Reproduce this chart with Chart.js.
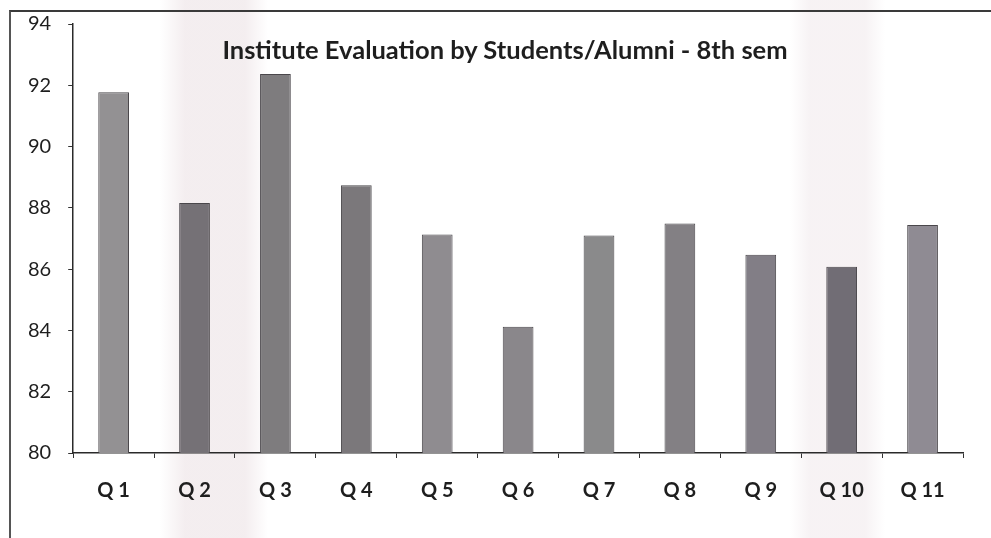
<!DOCTYPE html>
<html>
<head>
<meta charset="utf-8">
<script src="https://cdn.jsdelivr.net/npm/chart.js@4/dist/chart.umd.min.js"></script>
<style>
  html, body { margin: 0; padding: 0; background: #ffffff; }
  #wrap { position: relative; width: 991px; height: 538px; overflow: hidden;
          background:
            linear-gradient(90deg, rgba(255,255,255,0) 160px, rgba(236,226,229,0.6) 185px, rgba(236,226,229,0.6) 245px, rgba(255,255,255,0) 268px),
            linear-gradient(90deg, rgba(255,255,255,0) 790px, rgba(240,232,235,0.55) 810px, rgba(240,232,235,0.55) 865px, rgba(255,255,255,0) 885px),
            #ffffff; }
  #frame { position: absolute; left: 9px; top: 10px; right: -2px; bottom: -2px;
           border-top: 2px solid #3a3a3a; border-left: 2px solid #555; pointer-events: none; }
  #title { position: absolute; left: 0; width: 1010px; top: 37px; line-height: 1; text-align: center;
           font-family: Lato, "Open Sans", sans-serif; font-weight: bold; font-size: 25.5px; color: #1e1e1e; }
  canvas { position: absolute; left: 0; top: 0; }
</style>
</head>
<body>
<div id="wrap">
  <canvas id="c" width="991" height="538"></canvas>
  <div id="frame"></div>
  <div id="title">Institute Evaluation by Students/Alumni - 8th sem</div>
</div>
<script>
const categories = ["Q 1", "Q 2", "Q 3", "Q 4", "Q 5", "Q 6", "Q 7", "Q 8", "Q 9", "Q 10", "Q 11"];
const scores = [91.77, 88.16, 92.37, 88.74, 87.13, 84.12, 87.10, 87.49, 86.47, 86.08, 87.44];
const yTicks = [80, 82, 84, 86, 88, 90, 92, 94];

const barColors = ["#939193", "#757176", "#7e7c7e", "#7b787b", "#8f8c90", "#8a878b", "#8a8a8b", "#838084", "#827e86", "#716d75", "#8f8b93"];

new Chart(document.getElementById("c"), {
  type: "bar",
  data: {
    labels: categories,
    datasets: [{
      data: scores,
      backgroundColor: barColors,
      borderColor: "#4a474b",
      borderWidth: 1,
      barPercentage: 0.38,
      categoryPercentage: 1.0
    }]
  },
  options: {
    responsive: false,
    animation: false,
    layout: { padding: { left: 11, right: 28, top: 10, bottom: 14 } },
    plugins: { legend: { display: false }, title: { display: false }, tooltip: { enabled: false } },
    scales: {
      x: {
        offset: true,
        grid: { display: true, drawOnChartArea: false, drawTicks: true, tickLength: 5, color: "#333", offset: true },
        border: { display: true, color: "#2a2a2a", width: 1.5 },
        ticks: { padding: 21, color: "#1e1e1e", font: { family: "Lato, 'Open Sans', sans-serif", size: 20, weight: "bold" } }
      },
      y: {
        min: 80, max: 94,
        afterBuildTicks: (axis) => { axis.ticks = yTicks.map(v => ({ value: v })); },
        grid: { display: true, drawOnChartArea: false, drawTicks: true, tickLength: 5, color: "#333" },
        border: { display: true, color: "#2a2a2a", width: 1.5 },
        ticks: { padding: 17, color: "#1e1e1e", font: { family: "Lato, 'Open Sans', sans-serif", size: 20, lineHeight: 0.7 } }
      }
    }
  }
});
</script>
</body>
</html>
